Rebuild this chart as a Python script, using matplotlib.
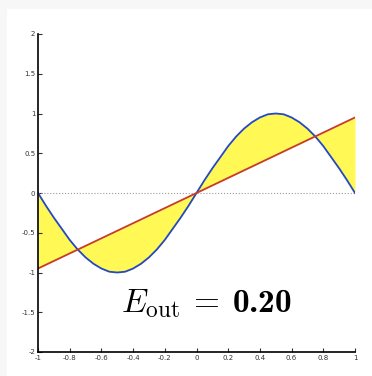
import numpy as np
import matplotlib
matplotlib.use('Agg')
import matplotlib.pyplot as plt
from matplotlib.patches import Rectangle

# target curve (x step 0.05)
curve_x = [-1.0, -0.95, -0.9, -0.85, -0.8, -0.75, -0.7, -0.65, -0.6, -0.55, -0.5,
           -0.45, -0.4, -0.35, -0.3, -0.25, -0.2, -0.15, -0.1, -0.05, 0.0,
           0.05, 0.1, 0.15, 0.2, 0.25, 0.3, 0.35, 0.4, 0.45, 0.5,
           0.55, 0.6, 0.65, 0.7, 0.75, 0.8, 0.85, 0.9, 0.95, 1.0]
curve_y = [0.0, -0.16, -0.31, -0.45, -0.59, -0.71, -0.81, -0.89, -0.95, -0.99, -1.0,
           -0.99, -0.95, -0.89, -0.81, -0.71, -0.59, -0.45, -0.31, -0.16, 0.0,
           0.16, 0.31, 0.45, 0.59, 0.71, 0.81, 0.89, 0.95, 0.99, 1.0,
           0.99, 0.95, 0.89, 0.81, 0.71, 0.59, 0.45, 0.31, 0.16, 0.0]

# fitted line (endpoints)
line_x = [-1.0, 1.0]
line_y = [-0.95, 0.95]

e_out = 0.20

xticks = [-1, -0.8, -0.6, -0.4, -0.2, 0, 0.2, 0.4, 0.6, 0.8, 1]
xlabels = ['-1', '-0.8', '-0.6', '-0.4', '-0.2', '0', '0.2', '0.4', '0.6', '0.8', '1']
yticks = [-2, -1.5, -1, -0.5, 0, 0.5, 1, 1.5, 2]
ylabels = ['-2', '-1.5', '-1', '-0.5', '0', '0.5', '1', '1.5', '2']

plt.rcParams['mathtext.fontset'] = 'custom'
plt.rcParams['mathtext.rm'] = 'cmr10'
plt.rcParams['mathtext.it'] = 'cmmi10'
plt.rcParams['mathtext.bf'] = 'cmb10'

fig = plt.figure(figsize=(3.72, 3.76), dpi=100, facecolor='#f7f7f7')
fig.patches.append(Rectangle((7 / 372, 0), 1, 1 - 9 / 376, transform=fig.transFigure,
                             facecolor='white', edgecolor='none', zorder=-10))
ax = fig.add_axes([38 / 372, 1 - 352 / 376, 317 / 372, 318 / 376])
ax.set_facecolor('none')
ax.set_zorder(5)

cx = np.array(curve_x)
cy = np.array(curve_y)
ly = np.interp(cx, line_x, line_y)
ax.fill_between(cx, cy, ly, color='#fff855', linewidth=0, interpolate=True)
ax.plot([-1, 1], [0, 0], ':', color='#999999', linewidth=0.8)
ax.plot(cx, cy, color='#2448c0', linewidth=1.3)
ax.plot(line_x, line_y, color='#c83a2a', linewidth=1.3)

ax.text(0.06, -1.39, r'$E_{\rm out}\:=\:\mathbf{%.2f}$' % e_out, fontsize=24,
        ha='center', va='center')

ax.set_xlim(-1, 1)
ax.set_ylim(-2, 2)
ax.set_xticks(xticks)
ax.set_xticklabels(xlabels)
ax.set_yticks(yticks)
ax.set_yticklabels(ylabels)
ax.tick_params(direction='in', length=3, width=0.8, labelsize=5, pad=2, colors='#333333')
for s in ['top', 'right']:
    ax.spines[s].set_visible(False)
for s in ['left', 'bottom']:
    ax.spines[s].set_linewidth(1.2)

fig.savefig('out.png', dpi=100, facecolor=fig.get_facecolor())
